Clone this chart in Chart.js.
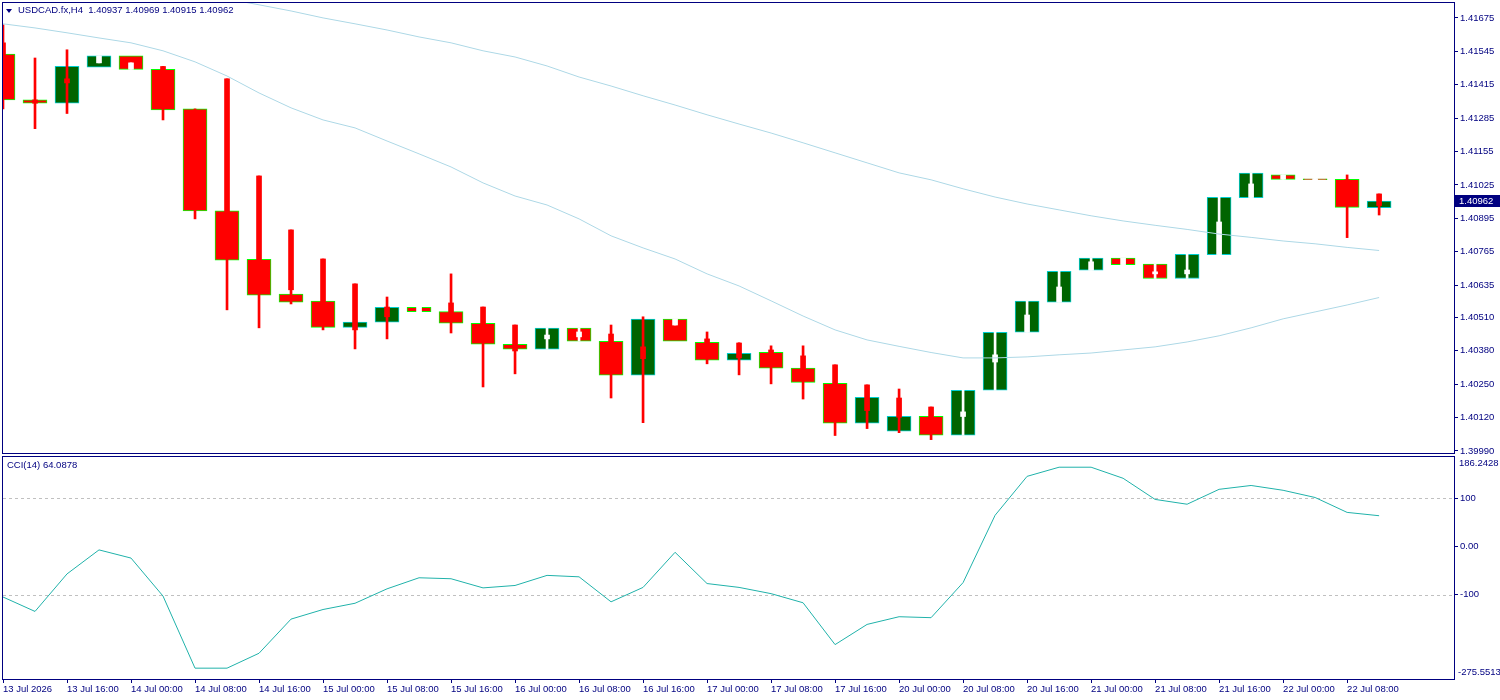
<!DOCTYPE html>
<html><head><meta charset="utf-8">
<script src="https://cdn.jsdelivr.net/npm/chart.js@4.4.1/dist/chart.umd.min.js"></script>
<style>
html,body{margin:0;padding:0;background:#fff;width:1500px;height:700px;overflow:hidden;}
canvas{position:absolute;left:0;}
#main{top:0;}
#cci{top:454px;}
.lbl{position:absolute;font-family:"Liberation Sans",Arial,sans-serif;font-size:9.5px;line-height:12px;color:#000080;white-space:pre;}
#title{left:18px;top:4px;}
#tri{position:absolute;left:6px;top:9px;width:0;height:0;border-left:3.5px solid transparent;border-right:3.5px solid transparent;border-top:4px solid #000080;}
#cciTitle{left:7px;top:459px;}
</style></head>
<body>
<canvas id="main" width="1500" height="462"></canvas>
<canvas id="cci" width="1500" height="246"></canvas>
<div id="tri"></div>
<div class="lbl" id="title">USDCAD.fx,H4  1.40937 1.40969 1.40915 1.40962</div>
<div class="lbl" id="cciTitle">CCI(14) 64.0878</div>
<script>
// ---- data ----
const barTimes = ['13 Jul 08:00','13 Jul 12:00','13 Jul 16:00','13 Jul 20:00','14 Jul 00:00','14 Jul 04:00','14 Jul 08:00','14 Jul 12:00','14 Jul 16:00','14 Jul 20:00','15 Jul 00:00','15 Jul 04:00','15 Jul 08:00','15 Jul 12:00','15 Jul 16:00','15 Jul 20:00','16 Jul 00:00','16 Jul 04:00','16 Jul 08:00','16 Jul 12:00','16 Jul 16:00','16 Jul 20:00','17 Jul 00:00','17 Jul 04:00','17 Jul 08:00','17 Jul 12:00','17 Jul 16:00','17 Jul 20:00','20 Jul 00:00','20 Jul 04:00','20 Jul 08:00','20 Jul 12:00','20 Jul 16:00','20 Jul 20:00','21 Jul 00:00','21 Jul 04:00','21 Jul 08:00','21 Jul 12:00','21 Jul 16:00','21 Jul 20:00','22 Jul 00:00','22 Jul 04:00','22 Jul 08:00','22 Jul 12:00'];
const candleOpen  = [1.41534,1.41356,1.41343,1.41483,1.41527,1.41475,1.41321,1.40924,1.40736,1.40600,1.40573,1.40471,1.40491,1.40549,1.40532,1.40487,1.40405,1.40386,1.40468,1.40417,1.40285,1.40503,1.40413,1.40343,1.40374,1.40312,1.40253,1.40098,1.40067,1.40125,1.40051,1.40226,1.40452,1.40569,1.40693,1.40740,1.40717,1.40661,1.40754,1.40976,1.41064,1.41049,1.41047,1.40937];
const candleClose = [1.41356,1.41343,1.41487,1.41527,1.41475,1.41317,1.40924,1.40732,1.40596,1.40569,1.40471,1.40491,1.40549,1.40532,1.40487,1.40405,1.40386,1.40468,1.40417,1.40285,1.40503,1.40417,1.40343,1.40370,1.40312,1.40257,1.40098,1.40199,1.40125,1.40051,1.40226,1.40452,1.40573,1.40689,1.40740,1.40715,1.40661,1.40755,1.40977,1.41071,1.41047,1.41046,1.40938,1.40962];
// Heiken Ashi overlay
const haOpen  = [1.41578,1.41356,1.41438,1.41500,1.41475,1.41486,1.41298,1.41438,1.41060,1.40850,1.40737,1.40640,1.40550,1.40532,1.40566,1.40550,1.40480,1.40426,1.40434,1.40445,1.40395,1.40480,1.40426,1.40410,1.40383,1.40360,1.40325,1.40247,1.40196,1.40161,1.40124,1.40336,1.40452,1.40569,1.40693,1.40715,1.40679,1.40679,1.40754,1.40976,1.41047,1.41045,1.41045,1.40990];
const haClose = [1.41434,1.41343,1.41422,1.41527,1.41500,1.41395,1.41045,1.40850,1.40694,1.40617,1.40539,1.40461,1.40512,1.40549,1.40508,1.40461,1.40379,1.40441,1.40453,1.40344,1.40349,1.40503,1.40383,1.40352,1.40357,1.40305,1.40188,1.40147,1.40121,1.40091,1.40142,1.40364,1.40519,1.40628,1.40726,1.40740,1.40687,1.40694,1.40881,1.41029,1.41064,1.41050,1.40967,1.40945];
const haHigh  = [1.41648,1.41519,1.41551,1.41527,1.41500,1.41486,1.41321,1.41438,1.41060,1.40850,1.40737,1.40640,1.40589,1.40549,1.40679,1.40550,1.40480,1.40468,1.40468,1.40480,1.40512,1.40503,1.40453,1.40411,1.40399,1.40399,1.40325,1.40247,1.40231,1.40161,1.40226,1.40452,1.40573,1.40689,1.40740,1.40740,1.40717,1.40755,1.40977,1.41071,1.41064,1.41052,1.41064,1.40990];
const haLow   = [1.41321,1.41244,1.41303,1.41500,1.41475,1.41278,1.40893,1.40539,1.40469,1.40562,1.40461,1.40387,1.40426,1.40532,1.40449,1.40239,1.40290,1.40386,1.40417,1.40196,1.40100,1.40480,1.40329,1.40286,1.40251,1.40192,1.40050,1.40077,1.40061,1.40034,1.40051,1.40226,1.40452,1.40569,1.40693,1.40715,1.40661,1.40661,1.40754,1.40976,1.41047,1.41043,1.40820,1.40908];
// moving averages
const maFast = [1.41652,1.41636,1.41617,1.41597,1.41578,1.41547,1.41504,1.41449,1.41383,1.41325,1.41278,1.41247,1.41196,1.41146,1.41095,1.41033,1.40982,1.40947,1.40893,1.40827,1.40780,1.40737,1.40679,1.40632,1.40574,1.40515,1.40461,1.40422,1.40397,1.40373,1.40352,1.40352,1.40356,1.40364,1.40371,1.40383,1.40395,1.40414,1.40438,1.40469,1.40504,1.40531,1.40558,1.40587];
const maSlow = [1.41916,1.41893,1.41870,1.41846,1.41823,1.41800,1.41772,1.41749,1.41726,1.41702,1.41675,1.41652,1.41628,1.41601,1.41578,1.41547,1.41523,1.41488,1.41445,1.41410,1.41372,1.41336,1.41298,1.41262,1.41227,1.41189,1.41150,1.41111,1.41072,1.41045,1.41010,1.40978,1.40951,1.40928,1.40905,1.40885,1.40868,1.40852,1.40834,1.40821,1.40807,1.40796,1.40782,1.40770];
// CCI(14)
const cciValues = [-105,-135,-57,-7,-24,-103,-253,-253,-222,-151,-131,-118,-88,-65,-67,-86,-81,-60,-63,-115,-85,-12,-77,-85,-98,-117,-204,-162,-146,-148,-75,65,146,165,165,142,98,88,119,127,117,102,71,64.0878];
// axes
const priceTicks = [1.39990,1.40120,1.40250,1.40380,1.40510,1.40635,1.40765,1.40895,1.41025,1.41155,1.41285,1.41415,1.41545,1.41675];
const priceMin = 1.39982, priceMax = 1.41733;
const xTickBars = [0,2,4,6,8,10,12,14,16,18,20,22,24,26,28,30,32,34,36,38,40,42];
const xTickLabels = ['13 Jul 2026','13 Jul 16:00','14 Jul 00:00','14 Jul 08:00','14 Jul 16:00','15 Jul 00:00','15 Jul 08:00','15 Jul 16:00','16 Jul 00:00','16 Jul 08:00','16 Jul 16:00','17 Jul 00:00','17 Jul 08:00','17 Jul 16:00','20 Jul 00:00','20 Jul 08:00','20 Jul 16:00','21 Jul 00:00','21 Jul 08:00','21 Jul 16:00','22 Jul 00:00','22 Jul 08:00'];
const xVisibleBars = 45.34;
const cciMax = 186.2428, cciMin = -275.5513;
const cciTicks = [100, 0, -100];
const cciTickLabels = ['100', '0.00', '-100'];
const cciLevels = [100, -100];

// ---- styling ----
const NAVY = '#000080';
const FONT = {family:'"Liberation Sans", Arial, sans-serif', size:9.5};
const idx = candleOpen.map((_, i) => i);
const bull = idx.map(i => candleClose[i] >= candleOpen[i]);
const haUp = idx.map(i => haClose[i] >= haOpen[i]);

function noPad(s) { s.paddingTop = 0; s.paddingBottom = 0; s.paddingLeft = 0; s.paddingRight = 0; }

const panelBox = {
  id: 'panelBox',
  afterDraw(chart) {
    const {ctx, chartArea: a} = chart;
    ctx.save();
    ctx.strokeStyle = NAVY; ctx.lineWidth = 1;
    ctx.strokeRect(a.left - 0.5, a.top - 0.5, a.right - a.left + 1, a.bottom - a.top + 1);
    ctx.restore();
  }
};

const priceTag = {
  id: 'priceTag',
  afterDraw(chart) {
    const {ctx} = chart;
    const y = Math.round(chart.scales.y.getPixelForValue(candleClose[candleClose.length - 1]));
    ctx.save();
    ctx.fillStyle = NAVY;
    ctx.fillRect(1455, y - 6, 45, 12);
    ctx.fillStyle = '#fff';
    ctx.font = '9.5px "Liberation Sans", Arial, sans-serif';
    ctx.textBaseline = 'middle';
    ctx.fillText(candleClose[candleClose.length - 1].toFixed(5), 1459, y + 0.5);
    ctx.restore();
  }
};

const cciDecor = {
  id: 'cciDecor',
  beforeDatasetsDraw(chart) {
    const {ctx, chartArea: a} = chart;
    const ys = chart.scales.y;
    ctx.save();
    ctx.strokeStyle = '#C0C0C0'; ctx.lineWidth = 1; ctx.setLineDash([3, 3]);
    cciLevels.forEach(v => {
      const y = Math.round(ys.getPixelForValue(v)) + 0.5;
      ctx.beginPath(); ctx.moveTo(a.left, y); ctx.lineTo(a.right, y); ctx.stroke();
    });
    ctx.restore();
  },
  afterDraw(chart) {
    const {ctx, chartArea: a} = chart;
    ctx.save();
    ctx.fillStyle = NAVY;
    ctx.font = '9.5px "Liberation Sans", Arial, sans-serif';
    ctx.textBaseline = 'middle';
    ctx.fillText(cciMax.toFixed(4), 1459, a.top + 6);
    ctx.fillText(cciMin.toFixed(4), 1458, a.bottom - 7);
    ctx.restore();
  }
};

const common = {
  responsive: false, animation: false, devicePixelRatio: 1, events: [],
  plugins: {legend: {display: false}, tooltip: {enabled: false}},
};

new Chart(document.getElementById('main'), {
  type: 'bar',
  data: {
    datasets: [
      {type: 'line', data: idx.map(i => ({x: i, y: maFast[i]})), borderColor: '#ADD8E6', borderWidth: 1, pointRadius: 0, clip: 0},
      {type: 'line', data: idx.map(i => ({x: i, y: maSlow[i]})), borderColor: '#ADD8E6', borderWidth: 1, pointRadius: 0, clip: 0},
      {type: 'bar', data: idx.map(i => ({x: i, y: [haOpen[i], haClose[i]]})), backgroundColor: haUp.map(u => u ? '#FFFFFF' : '#FF0000'), borderWidth: 0, barThickness: 5, grouped: false, clip: 0},
      {type: 'bar', data: idx.map(i => ({x: i, y: [haLow[i], haHigh[i]]})), backgroundColor: haUp.map(u => u ? '#FFFFFF' : '#FF0000'), borderWidth: 0, barThickness: 2, grouped: false, clip: 0},
      {type: 'bar', data: idx.map(i => ({x: i, y: [candleOpen[i], candleClose[i]]})), backgroundColor: bull.map(b => b ? '#006400' : '#FF0000'), borderColor: bull.map(b => b ? '#00CED1' : '#00FF00'), borderWidth: 1, borderSkipped: false, barThickness: 24, grouped: false, clip: 0}
    ]
  },
  options: Object.assign({}, common, {
    layout: {padding: {left: 3, top: 3, right: 0, bottom: 9}},
    scales: {
      x: {type: 'linear', min: 0, max: xVisibleBars, display: false, offset: false, grid: {offset: false}, afterFit: noPad},
      y: {
        type: 'linear', position: 'right', min: priceMin, max: priceMax,
        afterFit(s) { s.width = 46; noPad(s); },
        afterBuildTicks(s) { s.ticks = priceTicks.map(v => ({value: v})); },
        ticks: {color: NAVY, font: FONT, padding: 2, autoSkip: false, callback: v => Number(v).toFixed(5)},
        grid: {drawOnChartArea: false, tickLength: 4, tickColor: NAVY, color: NAVY},
        border: {display: false}
      }
    }
  }),
  plugins: [panelBox, priceTag]
});

new Chart(document.getElementById('cci'), {
  type: 'line',
  data: {
    datasets: [
      {data: idx.map(i => ({x: i, y: cciValues[i]})), borderColor: '#20B2AA', borderWidth: 1, pointRadius: 0, clip: 0}
    ]
  },
  options: Object.assign({}, common, {
    layout: {padding: {left: 3, top: 3, right: 0, bottom: 0}},
    scales: {
      x: {
        type: 'linear', min: 0, max: xVisibleBars, offset: false,
        afterFit(s) { s.height = 21; noPad(s); },
        afterBuildTicks(s) { s.ticks = xTickBars.map(v => ({value: v})); },
        ticks: {color: NAVY, font: FONT, padding: 1, align: 'start', autoSkip: false, maxRotation: 0, minRotation: 0,
                callback: (v, i) => xTickLabels[i]},
        grid: {drawOnChartArea: false, tickLength: 4, tickColor: NAVY, offset: false},
        border: {display: false}
      },
      y: {
        type: 'linear', position: 'right', min: cciMin, max: cciMax,
        afterFit(s) { s.width = 46; noPad(s); },
        afterBuildTicks(s) { s.ticks = cciTicks.map(v => ({value: v})); },
        ticks: {color: NAVY, font: FONT, padding: 2, autoSkip: false, callback: (v, i) => cciTickLabels[i]},
        grid: {drawOnChartArea: false, tickLength: 4, tickColor: NAVY},
        border: {display: false}
      }
    }
  }),
  plugins: [panelBox, cciDecor]
});
</script>
</body></html>
